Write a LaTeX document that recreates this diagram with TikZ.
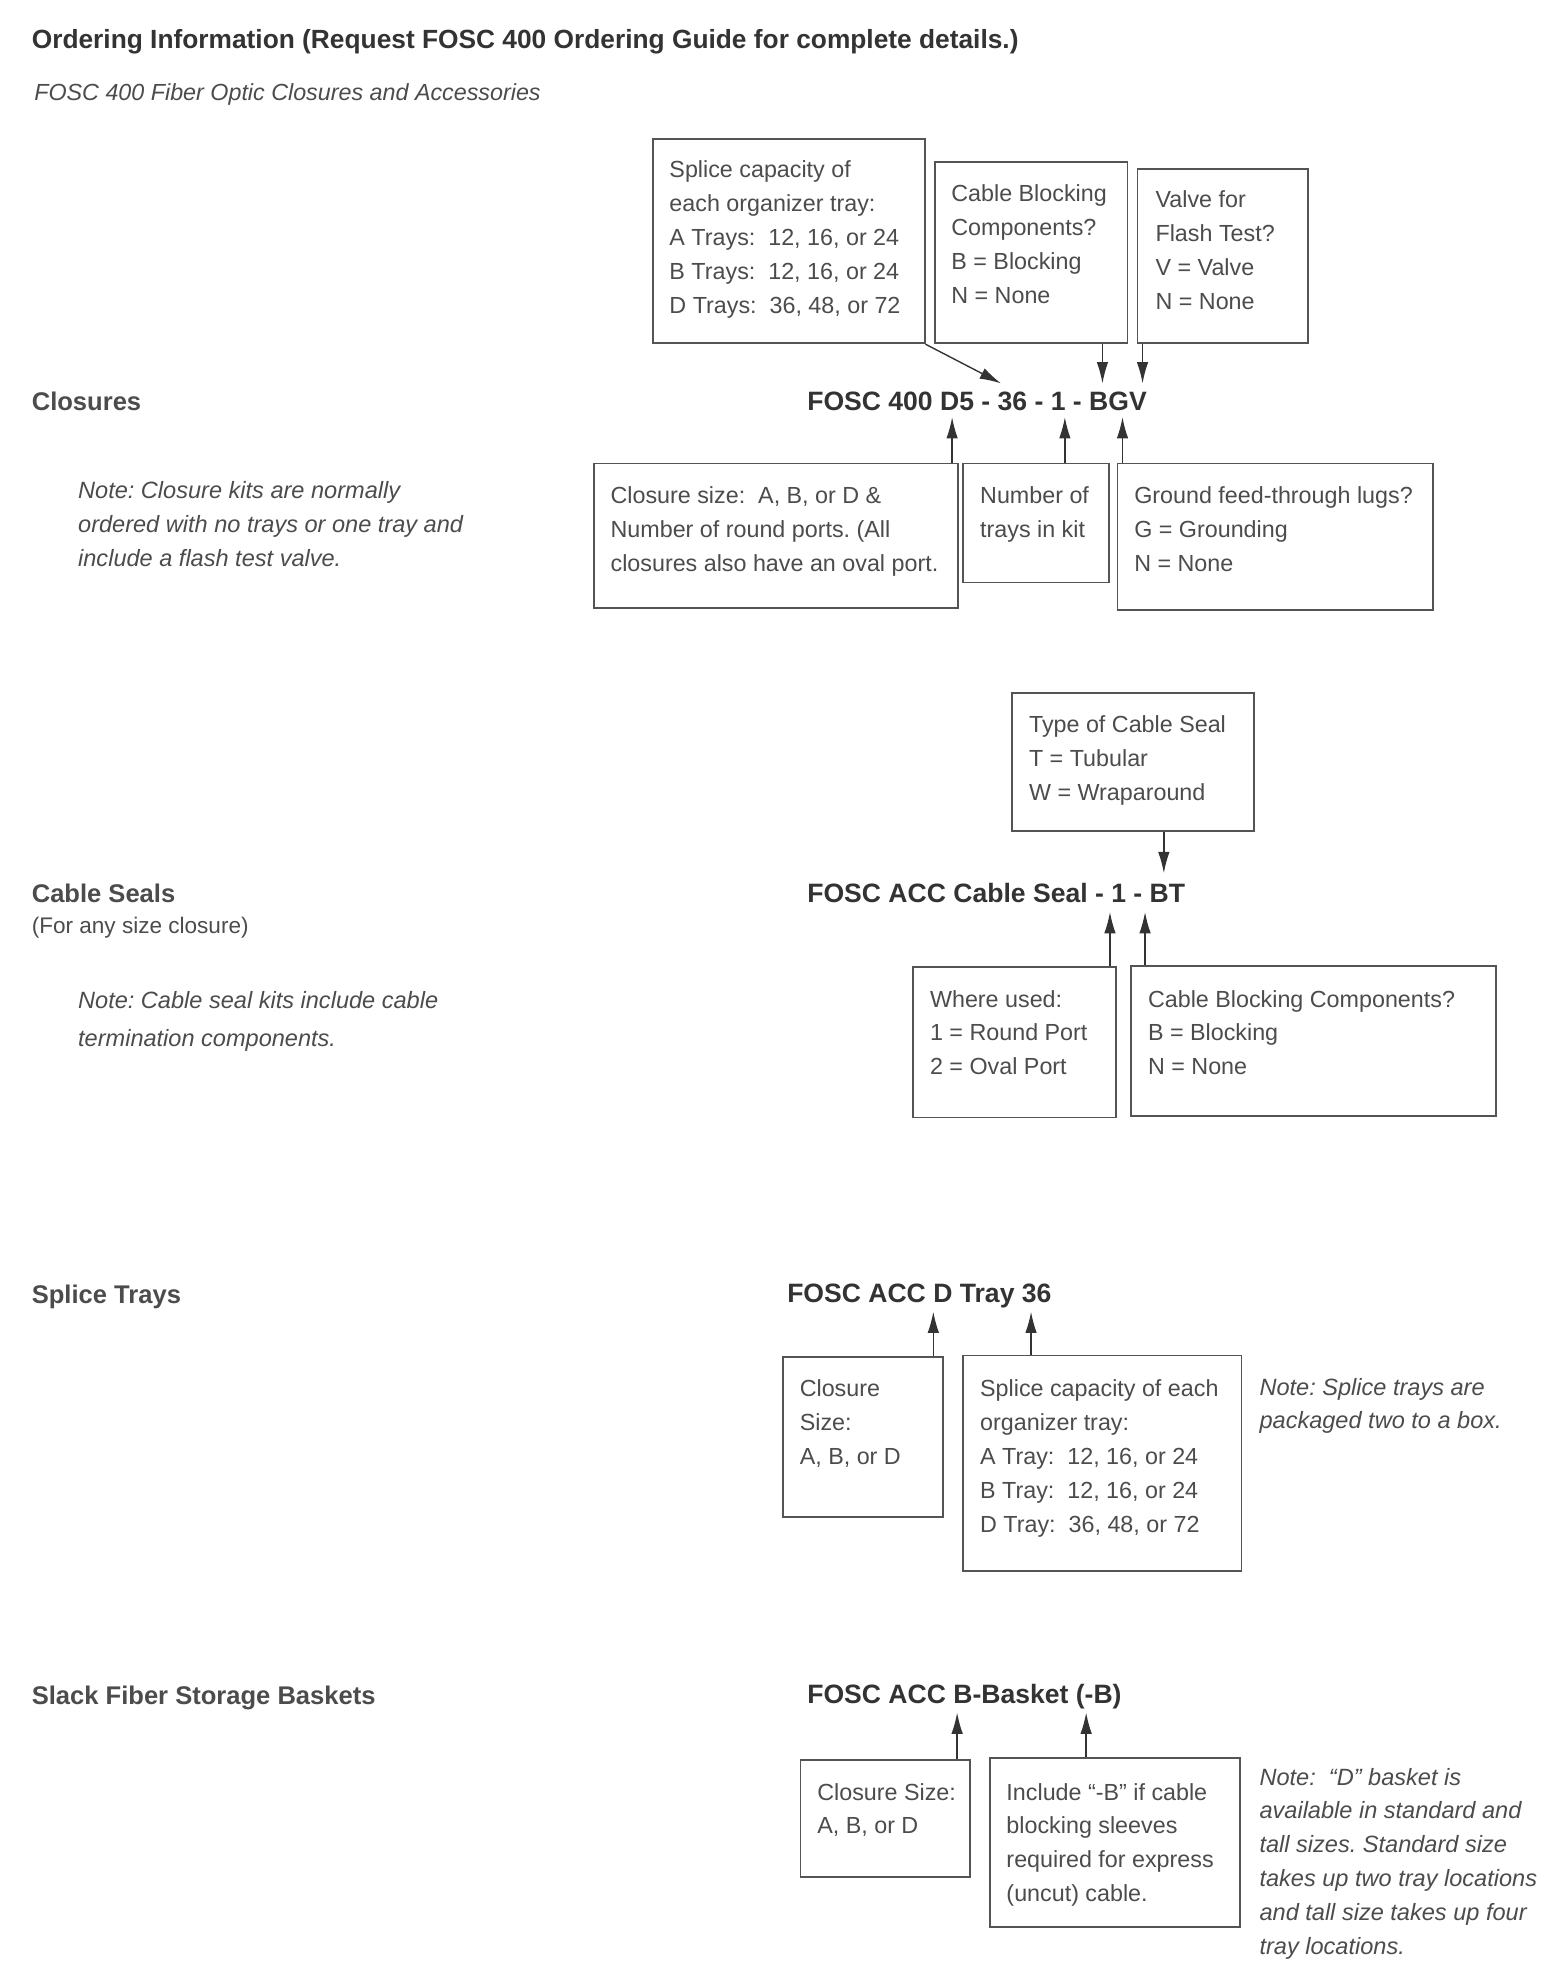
\documentclass[tikz,border=0pt]{standalone}
\usepackage{fontspec}
\setmainfont{Liberation Sans}
\usetikzlibrary{arrows.meta,fit}
\frenchspacing
\definecolor{txtgray}{gray}{0.30}
\definecolor{linegray}{gray}{0.33}
\definecolor{codegray}{gray}{0.20}
\tikzset{
  box/.style={draw=linegray,line width=0.75pt,inner sep=0pt,rectangle},
  txt/.style={text=txtgray,inner sep=0pt,anchor=north west,align=left,font=\fontsize{9.3}{13.5}\selectfont},
  note/.style={txt,font=\fontsize{9.4}{13.5}\selectfont\itshape},
  code/.style={text=codegray,inner sep=0pt,anchor=base west,font=\fontsize{10.6}{13}\selectfont\bfseries},
  title/.style={text=txtgray,inner sep=0pt,anchor=base west,font=\fontsize{10.2}{13}\selectfont\bfseries},
  arr/.style={draw=codegray,line width=0.55pt,-{Latex[length=8.5pt,width=4.6pt]}}
}
\begin{document}
\begin{tikzpicture}[x=0.5pt,y=-0.5pt]
\useasboundingbox[fill=white] (0,0) rectangle (1250,1573.3);

% header
\node[title,text=codegray,font=\fontsize{10.5}{13}\selectfont\bfseries] (hdr) at (25,38.5) {Ordering Information (Request FOSC 400 Ordering Guide for complete details.)};
\node[txt,anchor=base west,font=\fontsize{9.3}{13.5}\selectfont\itshape] (sub) at (27,80.5) {FOSC 400 Fiber Optic Closures and Accessories};

% ---------- Closures ----------
\node[title] (tclos) at (25,327.3) {Closures};
\node[note] (nclos) at (62,378.6) {\strut Note: Closure kits are normally\\ordered with no trays or one tray and\\include a flash test valve.};

\node[box,fit={(521,111) (738,274)}] (s1) {};
\node[txt] (s1t) at (534,122.6) {\strut Splice capacity of\\each organizer tray:\\A Trays:\ \ 12, 16, or 24\\B Trays:\ \ 12, 16, or 24\\D Trays:\ \ 36, 48, or 72};
\node[box,fit={(746,129) (900,274)}] (bb) {};
\node[txt] (bbt) at (759,141.6) {\strut Cable Blocking\\Components?\\B = Blocking\\N = None};
\node[box,fit={(908,135) (1044,274)}] (vv) {};
\node[txt] (vvt) at (922,146.6) {\strut Valve for\\Flash Test?\\V = Valve\\N = None};

\node[code] (code1) at (644,327.6) {FOSC 400 D5 - 36 - 1 - BGV};

\node[box,fit={(474,370) (765,485)}] (c1) {};
\node[txt] (c1t) at (487,382.6) {\strut Closure size:\ \ A, B, or D \&\\Number of round ports. (All\\closures also have an oval port.};
\node[box,fit={(769,370) (885,465)}] (nn) {};
\node[txt] (nnt) at (782,382.6) {\strut Number of\\trays in kit};
\node[box,fit={(892,370) (1144,487)}] (gg) {};
\node[txt] (ggt) at (905,382.6) {\strut Ground feed-through lugs?\\G = Grounding\\N = None};

\coordinate (a1) at (799,306);
\coordinate (a2) at (880,306);
\coordinate (a3) at (912,306);
\coordinate (a4) at (760,333);
\coordinate (a5) at (850,333);
\coordinate (a6) at (896,333);
\draw[arr] (s1.south east) -- (a1);
\draw[arr] (bb.south -| a2) -- (a2);
\draw[arr] (vv.south -| a3) -- (a3);
\draw[arr] (c1.north -| a4) -- (a4);
\draw[arr] (nn.north -| a5) -- (a5);
\draw[arr] (gg.north -| a6) -- (a6);

% ---------- Cable Seals ----------
\node[title] (tseal) at (25,720.3) {Cable Seals};
\node[txt,anchor=base west,font=\fontsize{9}{13}\selectfont] (tseal2) at (25,745.3) {(For any size closure)};
\node[note,font=\fontsize{9.4}{15}\selectfont\itshape] (nseal) at (62,783.6) {\strut Note: Cable seal kits include cable\\termination components.};

\node[box,fit={(808,553) (1001,663)}] (tt) {};
\node[txt] (ttt) at (821,565.6) {\strut Type of Cable Seal\\T = Tubular\\W = Wraparound};

\node[code] (code2) at (644,720.6) {FOSC ACC Cable Seal - 1 - BT};

\node[box,fit={(729,772) (891,892)}] (ww) {};
\node[txt] (wwt) at (742,784.6) {\strut Where used:\\1 = Round Port\\2 = Oval Port};
\node[box,fit={(903,771) (1194,891)}] (cb) {};
\node[txt] (cbt) at (916,784.6) {\strut Cable Blocking Components?\\B = Blocking\\N = None};

\coordinate (b1) at (929,697);
\coordinate (b2) at (886,728);
\coordinate (b3) at (914,728);
\draw[arr] (tt.south -| b1) -- (b1);
\draw[arr] (ww.north -| b2) -- (b2);
\draw[arr] (cb.north -| b3) -- (b3);

% ---------- Splice Trays ----------
\node[title] (ttray) at (25,1040.3) {Splice Trays};
\node[code] (code3) at (628,1039.6) {FOSC ACC D Tray 36};

\node[box,fit={(625,1083) (753,1211)}] (cs) {};
\node[txt] (cst) at (638,1095.6) {\strut Closure\\Size:\\A, B, or D};
\node[box,fit={(769,1082) (991,1254)}] (sc) {};
\node[txt] (sct) at (782,1095.6) {\strut Splice capacity of each\\organizer tray:\\A Tray:\ \ 12, 16, or 24\\B Tray:\ \ 12, 16, or 24\\D Tray:\ \ 36, 48, or 72};
\node[note,font=\fontsize{9.4}{13}\selectfont\itshape] (ntray) at (1005,1095.6) {\strut Note: Splice trays are\\packaged two to a box.};

\coordinate (c1a) at (745,1047);
\coordinate (c2a) at (823,1047);
\draw[arr] (cs.north -| c1a) -- (c1a);
\draw[arr] (sc.north -| c2a) -- (c2a);

% ---------- Slack Fiber Storage Baskets ----------
\node[title] (tbask) at (25,1360.3) {Slack Fiber Storage Baskets};
\node[code] (code4) at (644,1359.6) {FOSC ACC B-Basket (-B)};

\node[box,fit={(639,1405) (774,1498)}] (csz) {};
\node[txt] (cszt) at (652,1417.6) {\strut Closure Size:\\A, B, or D};
\node[box,fit={(790,1403) (990,1538)}] (ib) {};
\node[txt] (ibt) at (803,1417.6) {\strut Include “-B” if cable\\blocking sleeves\\required for express\\(uncut) cable.};
\node[note] (nbask) at (1005,1405.6) {\strut Note:\ \ “D” basket is\\available in standard and\\tall sizes. Standard size\\takes up two tray locations\\and tall size takes up four\\tray locations.};

\coordinate (d1) at (764,1367);
\coordinate (d2) at (867,1367);
\draw[arr] (csz.north -| d1) -- (d1);
\draw[arr] (ib.north -| d2) -- (d2);
\end{tikzpicture}
\end{document}
